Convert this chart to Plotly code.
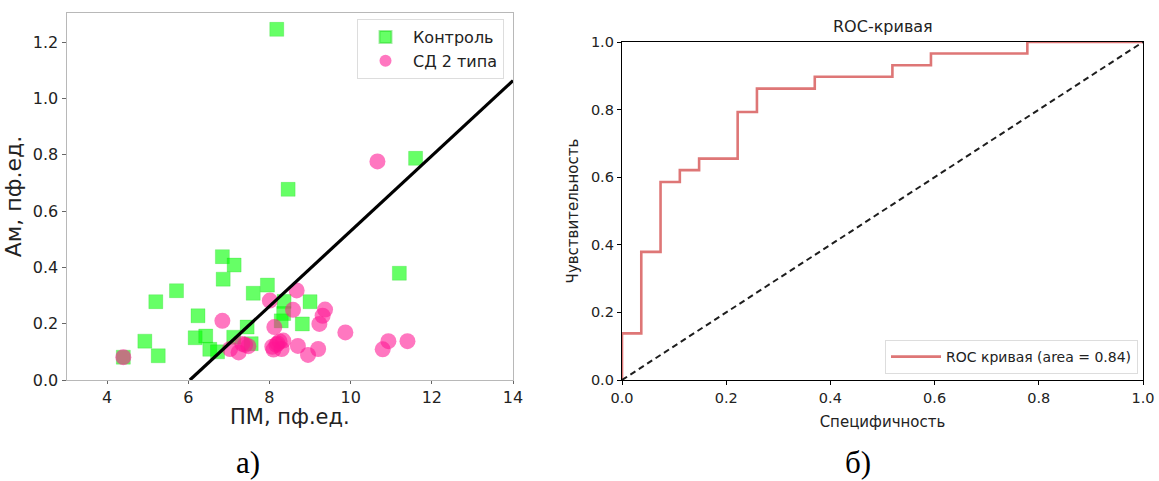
import plotly.graph_objects as go

# ---- Data: scatter (a) ----
ctrl_pm = [4.40, 4.93, 5.26, 5.20, 5.71, 6.24, 6.17, 6.43, 6.53, 6.72, 6.84, 7.13, 6.86, 7.12,
           7.45, 7.55, 7.60, 7.95, 8.36, 8.35, 8.29, 8.81, 9.00, 11.20, 8.18, 8.46, 11.60]
ctrl_am = [0.081, 0.138, 0.086, 0.278, 0.317, 0.228, 0.150, 0.156, 0.109, 0.100, 0.438, 0.408, 0.358, 0.152,
           0.188, 0.129, 0.308, 0.337, 0.279, 0.236, 0.210, 0.199, 0.278, 0.379, 1.245, 0.677, 0.787]

sd_pm = [4.40, 6.84, 7.03, 7.24, 7.33, 7.48, 8.01, 8.12, 8.07, 8.10, 8.17, 8.25, 8.30, 8.34, 8.67,
         8.58, 8.70, 8.95, 9.20, 9.23, 9.31, 9.37, 9.87, 10.79, 10.93, 11.40, 10.66, 8.20, 7.40]
sd_am = [0.081, 0.210, 0.110, 0.098, 0.128, 0.120, 0.282, 0.188, 0.118, 0.108, 0.125, 0.137, 0.110, 0.140, 0.318,
         0.249, 0.121, 0.089, 0.110, 0.199, 0.228, 0.250, 0.169, 0.109, 0.138, 0.138, 0.776, 0.130, 0.125]

line_x = [6.04, 14.0]
line_y = [0.0, 1.063]

# ---- Data: ROC (б) ----
fpr = [0.0, 0.0, 0.037, 0.074, 0.111, 0.148, 0.222, 0.259, 0.370, 0.519, 0.593, 0.778, 1.0]
tpr = [0.0, 0.138, 0.379, 0.586, 0.621, 0.655, 0.793, 0.862, 0.897, 0.931, 0.966, 1.0, 1.0]
diag = [0.0, 1.0]
roc_ticks = [0.0, 0.2, 0.4, 0.6, 0.8, 1.0]
roc_ticklabels = ["0.0", "0.2", "0.4", "0.6", "0.8", "1.0"]

W, H = 1159, 481
FONT = "DejaVu Sans"

fig = go.Figure()

fig.add_trace(go.Scatter(
    x=ctrl_pm, y=ctrl_am, mode="markers", name="Контроль",
    marker=dict(symbol="square", size=14, color="rgba(0,255,0,0.6)",
                line=dict(width=0.6, color="rgba(0,200,0,0.35)")),
    xaxis="x", yaxis="y", legend="legend"))
fig.add_trace(go.Scatter(
    x=sd_pm, y=sd_am, mode="markers", name="СД 2 типа",
    marker=dict(symbol="circle", size=16, color="rgba(255,20,147,0.58)", line=dict(width=0)),
    xaxis="x", yaxis="y", legend="legend"))
fig.add_trace(go.Scatter(
    x=line_x, y=line_y, mode="lines", showlegend=False,
    line=dict(color="black", width=3.2), xaxis="x", yaxis="y"))

fig.add_trace(go.Scatter(
    x=fpr, y=tpr, mode="lines", name="ROC кривая (area = 0.84)", line_shape="hv",
    line=dict(color="rgb(222,118,118)", width=2.6), xaxis="x2", yaxis="y2", legend="legend2"))
fig.add_trace(go.Scatter(
    x=diag, y=diag, mode="lines", showlegend=False,
    line=dict(color="rgb(30,30,30)", width=2, dash="6px,4px"), xaxis="x2", yaxis="y2"))

def px_x(p):
    return p / W

def px_y(p):
    return (H - p) / H

gray = "#b8b8b8"
fig.update_layout(
    width=W, height=H, margin=dict(l=0, r=0, t=0, b=0, autoexpand=False),
    paper_bgcolor="white", plot_bgcolor="white",
    font=dict(family=FONT, color="#222"),
    xaxis=dict(domain=[px_x(66.5), px_x(513)], range=[3, 14], tickvals=[4, 6, 8, 10, 12, 14],
               automargin=False,
               showgrid=False, zeroline=False, showline=True, mirror=True, linecolor=gray, linewidth=1,
               ticks="outside", ticklen=3, tickcolor="#666", tickfont=dict(size=16)),
    yaxis=dict(domain=[px_y(380), px_y(13)], range=[0, 1.303],
               automargin=False,
               tickvals=[0, 0.2, 0.4, 0.6, 0.8, 1.0, 1.2],
               ticktext=["0.0", "0.2", "0.4", "0.6", "0.8", "1.0", "1.2"],
               showgrid=False, zeroline=False, showline=True, mirror=True, linecolor=gray, linewidth=1,
               ticks="outside", ticklen=4, tickcolor="#666", tickfont=dict(size=16),
               title=dict(text="Ам, пф.ед.", font=dict(size=22), standoff=5)),
    xaxis2=dict(domain=[px_x(622), px_x(1143)], range=[0, 1], tickvals=roc_ticks, ticktext=roc_ticklabels,
                automargin=False,
                showgrid=False, zeroline=False, showline=True, mirror=True, linecolor="black", linewidth=1.3,
                ticks="outside", ticklen=4, tickcolor="black", tickfont=dict(size=14.5), anchor="y2",
                title=dict(text="Специфичность", font=dict(size=15), standoff=11)),
    yaxis2=dict(domain=[px_y(380), px_y(42)], range=[0, 1], tickvals=roc_ticks, ticktext=roc_ticklabels,
                automargin=False,
                showgrid=False, zeroline=False, showline=True, mirror=True, linecolor="black", linewidth=1.3,
                ticks="outside", ticklen=4, tickcolor="black", tickfont=dict(size=14.5), anchor="x2",
                title=dict(text="Чувствительность", font=dict(size=15), standoff=8)),
    legend=dict(x=px_x(504), y=px_y(19), xanchor="right", yanchor="top",
                bgcolor="rgba(255,255,255,0.8)", bordercolor="#dddddd", borderwidth=1,
                font=dict(size=16), itemsizing="constant", itemwidth=45, tracegroupgap=2),
    legend2=dict(x=px_x(1138), y=px_y(374), xanchor="right", yanchor="bottom",
                 bgcolor="rgba(255,255,255,0.8)", bordercolor="#dddddd", borderwidth=1,
                 font=dict(size=14), itemwidth=50),
    annotations=[
        dict(text="ПМ, пф.ед.", x=px_x(290), y=px_y(404), xref="paper", yref="paper",
             showarrow=False, font=dict(size=21, family=FONT), xanchor="center", yanchor="top",
             borderpad=0),
        dict(text="ROC-кривая", x=px_x(883), y=px_y(27), xref="paper", yref="paper",
             showarrow=False, font=dict(size=16, family=FONT), xanchor="center", yanchor="middle"),
        dict(text="а)", x=px_x(248), y=px_y(462), xref="paper", yref="paper",
             showarrow=False, font=dict(size=31, family="Liberation Serif", color="black"),
             xanchor="center", yanchor="middle"),
        dict(text="б)", x=px_x(858), y=px_y(462), xref="paper", yref="paper",
             showarrow=False, font=dict(size=31, family="Liberation Serif", color="black"),
             xanchor="center", yanchor="middle"),
    ],
)

fig.write_html("out.html")
